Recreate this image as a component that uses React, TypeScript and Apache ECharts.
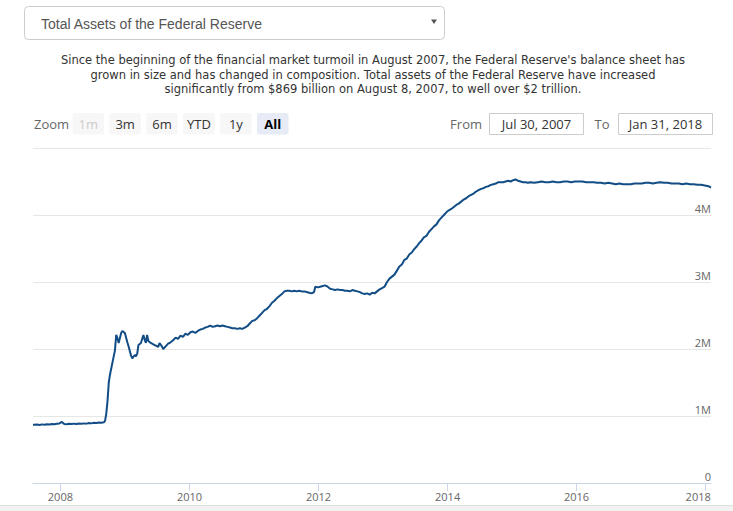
import React, { useEffect, useRef } from "react";
import * as echarts from "echarts";

const titleText = "Total Assets of the Federal Reserve";
const descriptionLines = [
  "Since the beginning of the financial market turmoil in August 2007, the Federal Reserve's balance sheet has",
  "grown in size and has changed in composition. Total assets of the Federal Reserve have increased",
  "significantly from $869 billion on August 8, 2007, to well over $2 trillion.",
];
const zoomButtons = ["1m", "3m", "6m", "YTD", "1y", "All"];
const fromText = "Jul 30, 2007";
const toText = "Jan 31, 2018";
const xTickYears = [2008, 2010, 2012, 2014, 2016, 2018];
const rangeStart = "2007-07-30";
const rangeEnd = "2018-01-31";

// Total assets, millions of dollars
const dates = [
  "2007-07-30", "2007-08-08", "2007-08-22", "2007-09-05", "2007-09-19", "2007-10-03", "2007-10-17", "2007-10-31",
  "2007-11-14", "2007-11-28", "2007-12-12", "2007-12-26", "2008-01-09", "2008-01-23", "2008-02-06", "2008-02-20",
  "2008-03-05", "2008-03-19", "2008-04-02", "2008-04-16", "2008-04-30", "2008-05-14", "2008-05-28", "2008-06-11",
  "2008-06-25", "2008-07-09", "2008-07-23", "2008-08-06", "2008-08-20", "2008-09-03", "2008-09-10", "2008-09-17",
  "2008-09-24", "2008-10-01", "2008-10-08", "2008-10-22", "2008-11-05", "2008-11-12", "2008-11-19", "2008-11-26",
  "2008-12-10", "2008-12-17", "2008-12-31", "2009-01-14", "2009-01-21", "2009-02-04", "2009-02-11", "2009-02-25",
  "2009-03-04", "2009-03-11", "2009-03-18", "2009-04-01", "2009-04-15", "2009-04-22", "2009-04-29", "2009-05-06",
  "2009-05-13", "2009-05-27", "2009-06-10", "2009-06-24", "2009-07-08", "2009-07-15", "2009-07-29", "2009-08-05",
  "2009-08-19", "2009-09-02", "2009-09-16", "2009-09-30", "2009-10-14", "2009-10-28", "2009-11-11", "2009-11-25",
  "2009-12-09", "2009-12-23", "2010-01-06", "2010-01-20", "2010-02-03", "2010-02-17", "2010-03-03", "2010-03-17",
  "2010-03-31", "2010-04-14", "2010-04-28", "2010-05-12", "2010-05-26", "2010-06-09", "2010-06-23", "2010-07-07",
  "2010-07-21", "2010-08-04", "2010-08-18", "2010-09-01", "2010-09-15", "2010-09-29", "2010-10-13", "2010-10-27",
  "2010-11-10", "2010-11-24", "2010-12-08", "2010-12-22", "2011-01-05", "2011-01-19", "2011-02-02", "2011-02-16",
  "2011-03-02", "2011-03-16", "2011-03-30", "2011-04-13", "2011-04-27", "2011-05-11", "2011-05-25", "2011-06-08",
  "2011-06-22", "2011-07-06", "2011-07-20", "2011-08-03", "2011-08-17", "2011-08-31", "2011-09-14", "2011-09-28",
  "2011-10-12", "2011-10-26", "2011-11-09", "2011-11-23", "2011-12-07", "2011-12-14", "2011-12-28", "2012-01-11",
  "2012-01-25", "2012-02-08", "2012-02-22", "2012-03-07", "2012-03-21", "2012-04-04", "2012-04-18", "2012-05-02",
  "2012-05-16", "2012-05-30", "2012-06-13", "2012-06-27", "2012-07-11", "2012-07-25", "2012-08-08", "2012-08-22",
  "2012-09-05", "2012-09-19", "2012-10-03", "2012-10-17", "2012-10-31", "2012-11-14", "2012-11-28", "2012-12-12",
  "2012-12-26", "2013-01-09", "2013-01-23", "2013-02-06", "2013-02-20", "2013-03-06", "2013-03-20", "2013-04-03",
  "2013-04-17", "2013-05-01", "2013-05-15", "2013-05-29", "2013-06-12", "2013-06-26", "2013-07-10", "2013-07-24",
  "2013-08-07", "2013-08-21", "2013-09-04", "2013-09-18", "2013-10-02", "2013-10-16", "2013-10-30", "2013-11-13",
  "2013-11-27", "2013-12-11", "2013-12-25", "2014-01-08", "2014-01-22", "2014-02-05", "2014-02-19", "2014-03-05",
  "2014-03-19", "2014-04-02", "2014-04-16", "2014-04-30", "2014-05-14", "2014-05-28", "2014-06-11", "2014-06-25",
  "2014-07-09", "2014-07-23", "2014-08-06", "2014-08-20", "2014-09-03", "2014-09-17", "2014-10-01", "2014-10-15",
  "2014-10-29", "2014-11-12", "2014-11-26", "2014-12-10", "2014-12-24", "2015-01-07", "2015-01-21", "2015-02-04",
  "2015-02-18", "2015-03-04", "2015-03-18", "2015-04-01", "2015-04-15", "2015-05-06", "2015-05-27", "2015-06-17",
  "2015-07-08", "2015-07-29", "2015-08-19", "2015-09-09", "2015-09-30", "2015-10-21", "2015-11-11", "2015-12-02",
  "2015-12-23", "2016-01-13", "2016-02-03", "2016-02-24", "2016-03-16", "2016-04-06", "2016-04-27", "2016-05-18",
  "2016-06-08", "2016-06-29", "2016-07-20", "2016-08-10", "2016-08-31", "2016-09-21", "2016-10-12", "2016-11-02",
  "2016-11-23", "2016-12-14", "2017-01-04", "2017-01-25", "2017-02-15", "2017-03-08", "2017-03-29", "2017-04-19",
  "2017-05-10", "2017-05-31", "2017-06-21", "2017-07-12", "2017-08-02", "2017-08-23", "2017-09-13", "2017-10-04",
  "2017-10-25", "2017-11-15", "2017-12-06", "2017-12-27", "2018-01-17", "2018-01-31",
];
const assets = [
  869000, 869000, 872000, 866000, 875000, 871000, 878000, 874000,
  880000, 876000, 884000, 889000, 912000, 880000, 876000, 884000,
  879000, 886000, 882000, 889000, 885000, 890000, 886000, 894000,
  890000, 898000, 894000, 902000, 899000, 906000, 927000, 1040000,
  1230000, 1500000, 1620000, 1800000, 1980000, 2210000, 2160000, 2090000,
  2240000, 2270000, 2240000, 2100000, 2040000, 1900000, 1860000, 1910000,
  1890000, 1930000, 2060000, 2090000, 2210000, 2140000, 2090000, 2210000,
  2120000, 2090000, 2070000, 2050000, 2030000, 2090000, 2040000, 2000000,
  2040000, 2080000, 2100000, 2130000, 2170000, 2150000, 2200000, 2180000,
  2230000, 2210000, 2250000, 2260000, 2240000, 2270000, 2290000, 2300000,
  2320000, 2330000, 2350000, 2330000, 2340000, 2350000, 2340000, 2350000,
  2340000, 2330000, 2320000, 2310000, 2310000, 2300000, 2310000, 2300000,
  2320000, 2340000, 2380000, 2420000, 2430000, 2460000, 2500000, 2540000,
  2580000, 2600000, 2640000, 2690000, 2720000, 2760000, 2790000, 2820000,
  2860000, 2870000, 2870000, 2860000, 2870000, 2860000, 2870000, 2860000,
  2860000, 2850000, 2840000, 2830000, 2850000, 2930000, 2920000, 2930000,
  2940000, 2950000, 2930000, 2900000, 2890000, 2880000, 2890000, 2880000,
  2880000, 2870000, 2870000, 2860000, 2880000, 2870000, 2860000, 2850000,
  2830000, 2820000, 2830000, 2810000, 2840000, 2830000, 2860000, 2890000,
  2910000, 2930000, 3000000, 3050000, 3080000, 3110000, 3170000, 3230000,
  3260000, 3330000, 3350000, 3410000, 3440000, 3490000, 3530000, 3580000,
  3620000, 3670000, 3690000, 3750000, 3790000, 3830000, 3860000, 3920000,
  3960000, 4000000, 4040000, 4070000, 4090000, 4120000, 4150000, 4170000,
  4200000, 4230000, 4250000, 4280000, 4300000, 4320000, 4350000, 4370000,
  4390000, 4400000, 4420000, 4430000, 4450000, 4460000, 4470000, 4490000,
  4490000, 4490000, 4500000, 4510000, 4500000, 4520000, 4530000, 4510000,
  4500000, 4490000, 4490000, 4480000, 4490000, 4480000, 4490000, 4500000,
  4490000, 4490000, 4500000, 4490000, 4490000, 4500000, 4500000, 4490000,
  4500000, 4500000, 4500000, 4490000, 4490000, 4490000, 4480000, 4480000,
  4470000, 4480000, 4470000, 4460000, 4470000, 4460000, 4460000, 4460000,
  4470000, 4470000, 4470000, 4480000, 4480000, 4470000, 4480000, 4490000,
  4480000, 4480000, 4470000, 4470000, 4470000, 4460000, 4470000, 4460000,
  4460000, 4450000, 4450000, 4440000, 4430000, 4410000,
];

const FONT = "'Open Sans', 'DejaVu Sans', sans-serif";
const DESC_FONT = "'DejaVu Sans', Verdana, sans-serif";

export default function App() {
  const ref = useRef<HTMLDivElement>(null);

  useEffect(() => {
    if (!ref.current) return;
    const chart = echarts.init(ref.current, null, { renderer: "svg" });
    const seriesData = dates.map((d, i) => [Date.parse(d), assets[i]]);
    const yearTicks = xTickYears.map((y) => Date.UTC(y, 0, 1));

    const graphics: any[] = [];
    // dropdown
    graphics.push({
      type: "rect",
      shape: { x: 24.5, y: 6.5, width: 420, height: 33, r: 4 },
      style: { fill: "#fff", stroke: "#cccccc", lineWidth: 1 },
    });
    graphics.push({
      type: "text",
      x: 41,
      y: 23.5,
      style: {
        text: titleText,
        font: "14px 'Liberation Sans', Arial, sans-serif",
        fill: "#555555",
        textVerticalAlign: "middle",
      },
    });
    graphics.push({
      type: "polygon",
      shape: { points: [[431, 19.5], [437, 19.5], [434, 24]] },
      style: { fill: "#555555" },
    });
    // description lines
    descriptionLines.forEach((line, i) => {
      graphics.push({
        type: "text",
        x: 373,
        y: 60 + i * 14.7,
        style: {
          text: line,
          font: `11.5px ${DESC_FONT}`,
          lineHeight: 14,
          fill: "#333333",
          textAlign: "center",
          textVerticalAlign: "middle",
        },
      });
    });
    // zoom label and buttons
    graphics.push({
      type: "text",
      x: 34,
      y: 124,
      style: { text: "Zoom", font: `13px ${FONT}`, fill: "#666666", textVerticalAlign: "middle" },
    });
    zoomButtons.forEach((label, i) => {
      const bx = 72.5 + i * 36.9;
      const selected = label === "All";
      const disabled = label === "1m";
      graphics.push({
        type: "rect",
        shape: { x: bx, y: 113, width: 31.5, height: 21.5, r: 2 },
        style: { fill: selected ? "#e6ebf5" : "#f7f7f7" },
      });
      graphics.push({
        type: "text",
        x: bx + 15.75,
        y: 124,
        style: {
          text: label,
          font: `${selected ? "bold " : ""}13px ${FONT}`,
          fill: disabled ? "#cccccc" : selected ? "#000000" : "#333333",
          textAlign: "center",
          textVerticalAlign: "middle",
        },
      });
    });
    // from / to
    graphics.push({
      type: "text",
      x: 482,
      y: 124,
      style: { text: "From", font: `13px ${FONT}`, fill: "#666666", textAlign: "right", textVerticalAlign: "middle" },
    });
    graphics.push({
      type: "rect",
      shape: { x: 489.5, y: 113.5, width: 94, height: 21 },
      style: { fill: "#fff", stroke: "#cccccc", lineWidth: 1 },
    });
    graphics.push({
      type: "text",
      x: 536.5,
      y: 124,
      style: { text: fromText, font: `13px ${FONT}`, fill: "#333333", textAlign: "center", textVerticalAlign: "middle" },
    });
    graphics.push({
      type: "text",
      x: 609.5,
      y: 124,
      style: { text: "To", font: `13px ${FONT}`, fill: "#666666", textAlign: "right", textVerticalAlign: "middle" },
    });
    graphics.push({
      type: "rect",
      shape: { x: 618.5, y: 113.5, width: 94, height: 21 },
      style: { fill: "#fff", stroke: "#cccccc", lineWidth: 1 },
    });
    graphics.push({
      type: "text",
      x: 665.5,
      y: 124,
      style: { text: toText, font: `13px ${FONT}`, fill: "#333333", textAlign: "center", textVerticalAlign: "middle" },
    });
    // navigator strip at bottom
    graphics.push({
      type: "rect",
      shape: { x: 0, y: 506, width: 733, height: 6 },
      style: { fill: "#f2f2f2" },
    });
    graphics.push({
      type: "line",
      shape: { x1: 0, y1: 505.5, x2: 733, y2: 505.5 },
      style: { stroke: "#dddddd", lineWidth: 1 },
    });

    chart.setOption({
      animation: false,
      backgroundColor: "#ffffff",
      grid: { left: 33, right: 22, top: 148, bottom: 28, outerBoundsMode: "none" },
      xAxis: {
        type: "value",
        min: Date.parse(rangeStart),
        max: Date.parse(rangeEnd),
        splitLine: { show: false },
        axisLine: { show: true, lineStyle: { color: "#ccd6eb", width: 1 } },
        axisTick: { show: true, length: 8, lineStyle: { color: "#ccd6eb" }, customValues: yearTicks },
        axisLabel: {
          customValues: yearTicks,
          margin: 8,
          color: "#666666",
          fontFamily: FONT,
          fontSize: 11,
          formatter: (v: number) => {
            const y = new Date(v).getUTCFullYear();
            return y === 2018 ? `{last|${y}}` : `${y}`;
          },
          rich: {
            last: { padding: [0, 15, 0, 0], color: "#666666", fontFamily: FONT, fontSize: 11 },
          },
        },
      },
      yAxis: {
        type: "value",
        position: "right",
        min: 0,
        max: 5000000,
        interval: 1000000,
        axisLine: { show: false },
        axisTick: { show: false },
        splitLine: { show: true, showMinLine: false, lineStyle: { color: "#e6e6e6", width: 1 } },
        axisLabel: {
          inside: true,
          margin: 0,
          showMaxLabel: false,
          verticalAlign: "bottom",
          lineHeight: 14,
          color: "#666666",
          fontFamily: FONT,
          fontSize: 11,
          formatter: (v: number) => (v === 0 ? "0" : `${v / 1000000}M`),
        },
      },
      series: [
        {
          type: "line",
          data: seriesData,
          showSymbol: false,
          symbol: "none",
          lineStyle: { color: "#124d86", width: 2 },
          silent: true,
        },
      ],
      graphic: { elements: graphics },
    });
    return () => chart.dispose();
  }, []);

  return (
    <div
      ref={ref}
      style={{ position: "absolute", left: 0, top: 0, width: 733, height: 511, background: "#fff" }}
    />
  );
}
